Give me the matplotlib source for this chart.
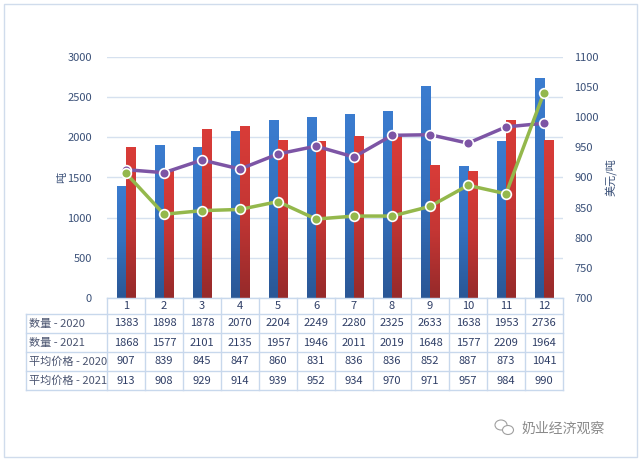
import matplotlib
matplotlib.use('Agg')
import matplotlib.pyplot as plt
import numpy as np
from matplotlib.lines import Line2D
from matplotlib.patches import Rectangle, Ellipse
from matplotlib.colors import LinearSegmentedColormap

plt.rcParams['font.family'] = ['Noto Sans CJK SC', 'DejaVu Sans']

months = ['1', '2', '3', '4', '5', '6', '7', '8', '9', '10', '11', '12']
qty_2020 = [1383, 1898, 1878, 2070, 2204, 2249, 2280, 2325, 2633, 1638, 1953, 2736]
qty_2021 = [1868, 1577, 2101, 2135, 1957, 1946, 2011, 2019, 1648, 1577, 2209, 1964]
price_2020 = [907, 839, 845, 847, 860, 831, 836, 836, 852, 887, 873, 1041]
price_2021 = [913, 908, 929, 914, 939, 952, 934, 970, 971, 957, 984, 990]
row_labels = ['数量 - 2020', '数量 - 2021', '平均价格 - 2020', '平均价格 - 2021']

W, H = 642, 461
fig = plt.figure(figsize=(W / 100, H / 100), dpi=100)
L, R, T, B = 107, 563, 57, 298
ax = fig.add_axes([L / W, 1 - B / H, (R - L) / W, (B - T) / H])
ax2 = ax.twinx()

text_c = '#3a5078'
grid_c = '#d6e1ef'
blue_cm = LinearSegmentedColormap.from_list('b', ['#2a5796', '#3470bd', '#3b7ccf'])
red_cm = LinearSegmentedColormap.from_list('r', ['#962a2a', '#c43634', '#d93c38'])
grad = np.linspace(0, 1, 64).reshape(-1, 1)

x = np.arange(len(months))
bw = 0.24
for i in range(len(months)):
    ax.imshow(grad, extent=[x[i] - bw, x[i], 0, qty_2020[i]], origin='lower',
              aspect='auto', cmap=blue_cm, zorder=2)
    ax.imshow(grad, extent=[x[i], x[i] + bw, 0, qty_2021[i]], origin='lower',
              aspect='auto', cmap=red_cm, zorder=2)

ax.set_xlim(-0.5, len(months) - 0.5)
ax.set_ylim(0, 3000)
ax.set_yticks(range(0, 3001, 500))
ax.yaxis.grid(True, color=grid_c, linewidth=1)
ax.set_axisbelow(True)
ax.set_xticks([])

ax2.plot(x, price_2021, color='#7d55a5', lw=2.5, marker='o', ms=7,
         mfc='#7d55a5', mec='white', mew=1.2, zorder=3)
ax2.plot(x, price_2020, color='#94b84c', lw=2.5, marker='o', ms=7,
         mfc='#94b84c', mec='white', mew=1.2, zorder=3)
ax2.set_ylim(700, 1100)
ax2.set_yticks(range(700, 1101, 50))

for a in (ax, ax2):
    for s in a.spines.values():
        s.set_visible(False)
    a.tick_params(length=0, labelsize=8, labelcolor=text_c)
ax.tick_params(axis='y', pad=11)
ax2.tick_params(axis='y', pad=8)

ax.set_ylabel('吨', color=text_c, fontsize=8, labelpad=0)
ax2.set_ylabel('美元/吨', color=text_c, fontsize=8, labelpad=4)

# data table below the plot
def fx(px):
    return px / W

def fy(py):
    return 1 - py / H

line_c = '#c8d8ec'
col_w = (R - L) / len(months)
tab_left = 26
header_top, header_bot = 298, 314
row_h = 19

def hline(x0, x1, y):
    fig.add_artist(Line2D([fx(x0), fx(x1)], [fy(y), fy(y)], color=line_c, lw=1))

def vline(xp, y0, y1):
    fig.add_artist(Line2D([fx(xp), fx(xp)], [fy(y0), fy(y1)], color=line_c, lw=1))

bottom = header_bot + row_h * len(row_labels)
hline(L, R, header_top)
for k in range(len(row_labels) + 1):
    hline(tab_left, R, header_bot + k * row_h)
vline(tab_left, header_bot, bottom)
for j in range(len(months) + 1):
    vline(L + j * col_w, header_top, bottom)

for j, m in enumerate(months):
    fig.text(fx(L + (j + 0.5) * col_w), fy((header_top + header_bot) / 2), m,
             ha='center', va='center', fontsize=8, color='#2f3e66')

rows = [qty_2020, qty_2021, price_2020, price_2021]
for k, (lab, vals) in enumerate(zip(row_labels, rows)):
    yc = header_bot + (k + 0.5) * row_h
    fig.text(fx(tab_left + 3), fy(yc), lab, ha='left', va='center',
             fontsize=8, color='#4a5470')
    for j, v in enumerate(vals):
        fig.text(fx(L + (j + 0.5) * col_w), fy(yc), str(v), ha='center',
                 va='center', fontsize=8, color='#2f3e66')

# outer frame
fig.add_artist(Rectangle((fx(4), fy(457)), fx(633), 453 / H, fill=False,
                         edgecolor='#d0dcec', lw=1))

# watermark
fig.add_artist(Ellipse((fx(501), fy(425)), 12 / W, 10 / H, fill=False,
                       edgecolor='#a0a0a0', lw=0.8))
fig.add_artist(Ellipse((fx(508), fy(430)), 11 / W, 9 / H, facecolor='white',
                       edgecolor='#a0a0a0', lw=0.8))
fig.text(fx(522), fy(429), '奶业经济观察', ha='left', va='center',
         fontsize=10, color='#8a8a8a')

fig.savefig('out.png', dpi=100)
